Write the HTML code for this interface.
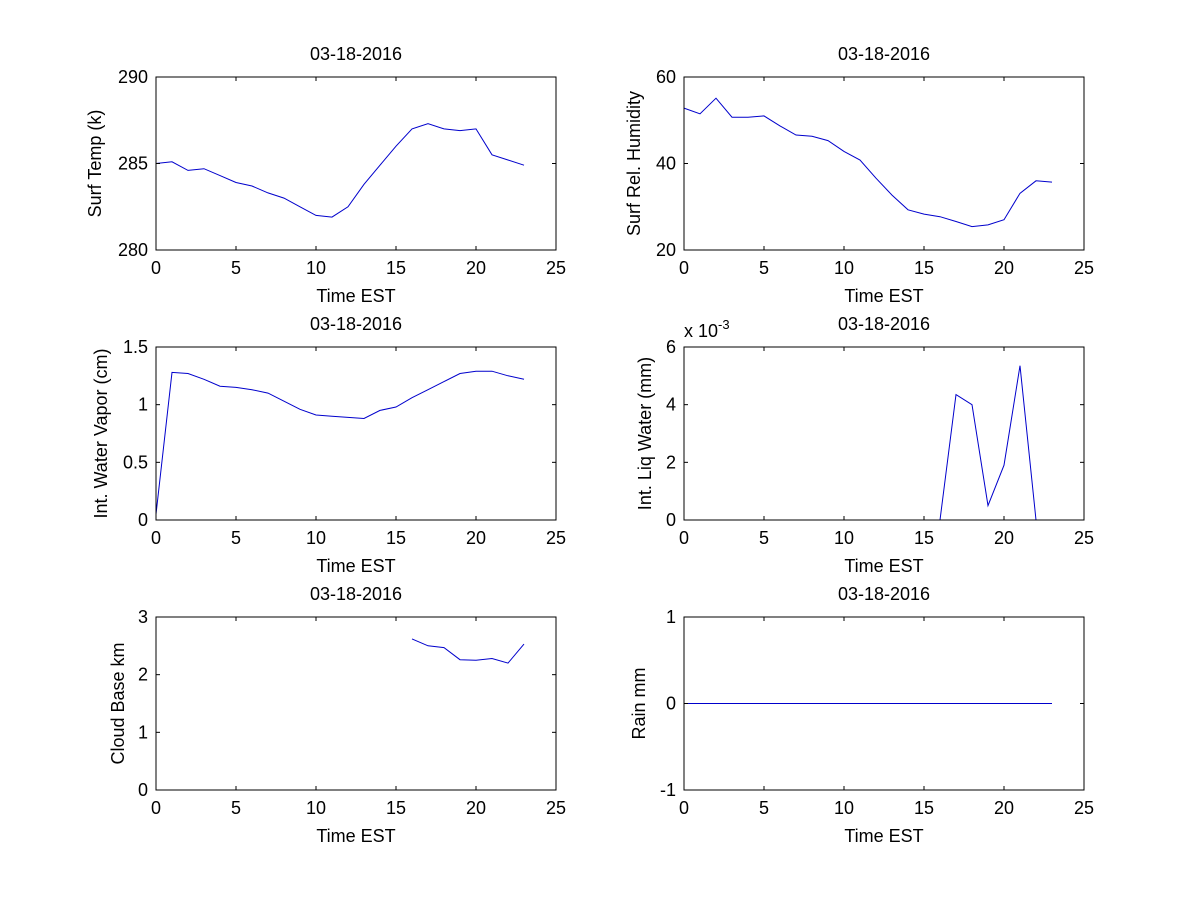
<!DOCTYPE html>
<html><head><meta charset="utf-8"><style>
html,body{margin:0;padding:0;background:#fff}
svg text{font-family:"Liberation Sans",Arial,sans-serif;font-size:18px;fill:#000}
</style></head><body>
<svg id="fig" width="1200" height="900" xmlns="http://www.w3.org/2000/svg">
<rect width="1200" height="900" fill="#fff"/>
</svg>
<script>
const hours=[0,1,2,3,4,5,6,7,8,9,10,11,12,13,14,15,16,17,18,19,20,21,22,23];
const tempVals=[285.0,285.1,284.6,284.7,284.3,283.9,283.7,283.3,283.0,282.5,282.0,281.9,282.5,283.8,284.9,286.0,287.0,287.3,287.0,286.9,287.0,285.5,285.2,284.9];
const humVals=[52.8,51.5,55.1,50.7,50.7,51.0,48.7,46.6,46.3,45.3,42.8,40.8,36.6,32.7,29.3,28.3,27.7,26.6,25.4,25.8,27.0,33.1,36.0,35.7];
const vaporVals=[0.05,1.28,1.27,1.22,1.16,1.15,1.13,1.1,1.03,0.96,0.91,0.9,0.89,0.88,0.95,0.98,1.06,1.13,1.2,1.27,1.29,1.29,1.25,1.22];
const liqVals=[0,0,0,0,0,0,0,0,0,0,0,0,0,0,0,0,0,4.35,4.0,0.5,1.9,5.35,0,0];
const cloudVals=[null,null,null,null,null,null,null,null,null,null,null,null,null,null,null,null,2.62,2.5,2.47,2.26,2.25,2.28,2.2,2.53];
const rainVals=[0,0,0,0,0,0,0,0,0,0,0,0,0,0,0,0,0,0,0,0,0,0,0,0];
const xTicks=[0,5,10,15,20,25];
const tempTicks=[280,285,290];
const humTicks=[20,40,60];
const vaporTicks=[0,0.5,1,1.5];
const liqTicks=[0,2,4,6];
const cloudTicks=[0,1,2,3];
const rainTicks=[-1,0,1];

const NS="http://www.w3.org/2000/svg";
const fig=document.getElementById('fig');
function mk(tag,attrs,parent){const e=document.createElementNS(NS,tag);for(const k in attrs)e.setAttribute(k,attrs[k]);(parent||fig).appendChild(e);return e;}

const panels=[
 {name:'surf-temp',x0:156,x1:556,y0:77,y1:250,ymin:280,ymax:290,ticks:tempTicks,vals:tempVals,ylabel:'Surf Temp (k)',lx:101},
 {name:'surf-humidity',x0:684,x1:1084,y0:77,y1:250,ymin:20,ymax:60,ticks:humTicks,vals:humVals,ylabel:'Surf Rel. Humidity',lx:640},
 {name:'water-vapor',x0:156,x1:556,y0:347,y1:520,ymin:0,ymax:1.5,ticks:vaporTicks,vals:vaporVals,ylabel:'Int. Water Vapor (cm)',lx:107},
 {name:'liq-water',x0:684,x1:1084,y0:347,y1:520,ymin:0,ymax:6,ticks:liqTicks,vals:liqVals,ylabel:'Int. Liq Water (mm)',lx:651,exp:true},
 {name:'cloud-base',x0:156,x1:556,y0:617,y1:790,ymin:0,ymax:3,ticks:cloudTicks,vals:cloudVals,ylabel:'Cloud Base km',lx:124},
 {name:'rain',x0:684,x1:1084,y0:617,y1:790,ymin:-1,ymax:1,ticks:rainTicks,vals:rainVals,ylabel:'Rain mm',lx:645}
];

panels.forEach(p=>{
 const g=mk('g',{});
 
 
 const sx=v=>p.x0+(v-0)/(25-0)*(p.x1-p.x0);
 const sy=v=>p.y1-(v-p.ymin)/(p.ymax-p.ymin)*(p.y1-p.y0);
 let d='',pen=false;
 hours.forEach((h,i)=>{
  const v=p.vals[i];
  if(v===null){pen=false;return;}
  d+=(pen?'L':'M')+sx(h).toFixed(1)+','+sy(v).toFixed(1);
  pen=true;
 });
 const line=mk('path',{d:d,fill:'none',stroke:'#0000cc','stroke-width':1},g);
 
 
 const box=mk('rect',{x:p.x0,y:p.y0,width:p.x1-p.x0,height:p.y1-p.y0,fill:'none',stroke:'#000','stroke-width':1},g);
 
 
 xTicks.forEach(t=>{
  const x=sx(t);
  mk('line',{x1:x,x2:x,y1:p.y1,y2:p.y1-4,stroke:'#000'},g);
  mk('line',{x1:x,x2:x,y1:p.y0,y2:p.y0+4,stroke:'#000'},g);
  const tx=mk('text',{x:x,y:p.y1+24,'text-anchor':'middle'},g);
  tx.textContent=t;
  
  
 });
 p.ticks.forEach(t=>{
  const y=sy(t);
  mk('line',{x1:p.x0,x2:p.x0+4,y1:y,y2:y,stroke:'#000'},g);
  mk('line',{x1:p.x1,x2:p.x1-4,y1:y,y2:y,stroke:'#000'},g);
  const ty=mk('text',{x:p.x0-8,y:y+6,'text-anchor':'end'},g);
  ty.textContent=t;
  
  
 });
 const ti=mk('text',{x:(p.x0+p.x1)/2,y:p.y0-17,'text-anchor':'middle'},g);
 ti.textContent='03-18-2016';
 
 
 const xl=mk('text',{x:(p.x0+p.x1)/2,y:p.y1+52,'text-anchor':'middle'},g);
 xl.textContent='Time EST';
 
 
 const cy=(p.y0+p.y1)/2;
 const yl=mk('text',{x:p.lx,y:cy,'text-anchor':'middle',transform:'rotate(-90 '+p.lx+' '+cy+')'},g);
 yl.textContent=p.ylabel;
 
 
 if(p.exp){
  const ex=mk('text',{x:p.x0,y:p.y0-10},g);
  ex.innerHTML='x 10<tspan dy="-8" font-size="13">-3</tspan>';
  
  
 }
});
</script>
</body></html>
